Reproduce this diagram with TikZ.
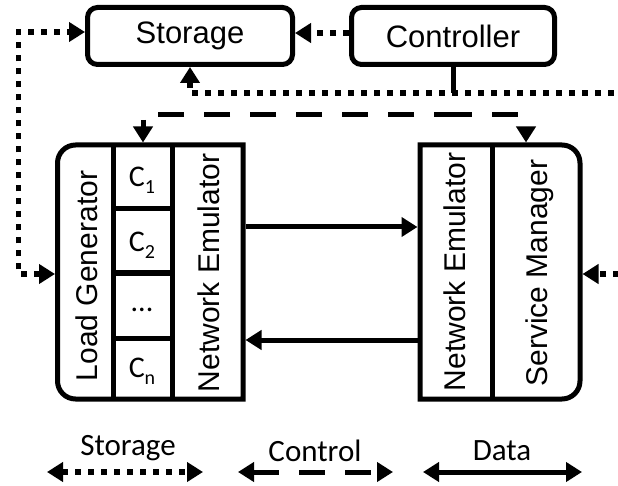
\documentclass[tikz,border=0pt]{standalone}
\usepackage{fontspec}
\setmainfont{Liberation Sans}
\newfontfamily\cfont{Carlito}
\usetikzlibrary{arrows.meta}
\newcommand\csub[1]{\raisebox{-7pt}{\fontsize{20}{20}\selectfont #1}}
\begin{document}
\begin{tikzpicture}[x=1pt,y=-1pt,
  >={Triangle[length=16pt,width=19pt]},
  lw/.style={line width=5pt},
  box/.style={draw, line width=5pt, rounded corners=10pt, inner sep=0pt,
    font=\fontsize{31}{31}\selectfont},
  vlbl/.style={inner sep=0pt, rotate=90, font=\fontsize{30}{30}\selectfont},
  clbl/.style={inner sep=0pt, font=\cfont\fontsize{30}{30}\selectfont},
  legtext/.style={inner sep=0pt, font=\cfont\fontsize{31}{31}\selectfont},
  stor/.style={line width=5.5pt, dash pattern=on 6pt off 7pt},
  ctrl/.style={line width=5pt, dash pattern=on 26pt off 20pt},
  data/.style={line width=5pt}]
\useasboundingbox (0,0) rectangle (618,486);
\fill[white] (0,0) rectangle (618,486);
\clip (0,0) rectangle (618,486);

% top boxes
\node[box, minimum width=205pt, minimum height=57pt] (storage) at (190,36) {Storage};
\node[box, minimum width=203pt, minimum height=57pt] (controller) at (453,36) {Controller};

% left block
\draw[lw] (243,145) -- (150,145) [rounded corners=18pt] -- (57.5,145) -- (57.5,399) -- (150,399) [sharp corners] -- (243,399) -- cycle;
\draw[lw] (113,145) -- (113,399);
\draw[lw] (172,145) -- (172,399);
\draw[lw] (113,209) -- (172,209);
\draw[lw] (113,273) -- (172,273);
\draw[lw] (113,338) -- (172,338);

% right block
\draw[lw] (420,145) -- (500,145) [rounded corners=18pt] -- (580,145) -- (580,399) -- (500,399) [sharp corners] -- (420,399) -- cycle;
\draw[lw] (492,145) -- (492,399);

% labels
\node[vlbl] (lgtext) at (87,276) {Load Generator};
\node[vlbl] (ne1) at (209,273) {Network Emulator};
\node[vlbl] (ne2) at (455,272) {Network Emulator};
\node[vlbl] (sm) at (540,273) {Service Manager};
\node[clbl] (c1) at (142,180) {C\csub{1}};
\node[clbl] (c2) at (142,245) {C\csub{2}};
\node[clbl] (cd) at (142,310) {...};
\node[clbl] (cn) at (142,371) {C\csub{n}};

% connector ends
\coordinate (lgW) at (55,274);
\coordinate (smE) at (582.5,274);
\coordinate (lgN) at (143,142.5);
\coordinate (smN) at (526,142.5);
\coordinate (ctrlJ) at (453,115);
\coordinate (neAo) at (245.5,227);
\coordinate (neAi) at (417.5,227);
\coordinate (neBo) at (417.5,340);
\coordinate (neBi) at (245.5,340);

% storage (dotted)
\draw[stor,->] (controller.west |- 0,33) -- (storage.east |- 0,33);
\draw[stor,<->] (lgW) -| (18.5,32) -- (storage.west |- 0,32);
\draw[stor,<->] (storage.south) -- (190,93) -- (640,93) |- (smE);

% control (dashed)
\draw[ctrl] (controller.south) -- (ctrlJ);
\draw[ctrl, dash phase=7pt, ->] (ctrlJ) -| (lgN);
\draw[ctrl, dash phase=7pt, ->] (ctrlJ) -| (smN);

% data
\draw[data,->] (neAo) -- (neAi);
\draw[data,->] (neBo) -- (neBi);

% legend
\node[legtext, anchor=base] (lsto) at (128,455) {Storage};
\node[legtext, anchor=base] (lctl) at (315,461) {Control};
\node[legtext, anchor=base] (ldat) at (502,460) {Data};
\coordinate (ls1) at (47,472);
\coordinate (ls2) at (203,472);
\coordinate (lc1) at (238,472);
\coordinate (lc2) at (393,472);
\coordinate (ld1) at (423,472);
\coordinate (ld2) at (582,472);
\draw[stor,<->] (ls1) -- (ls2);
\draw[ctrl,<->] (lc1) -- (lc2);
\draw[data,<->] (ld1) -- (ld2);
\end{tikzpicture}
\end{document}
